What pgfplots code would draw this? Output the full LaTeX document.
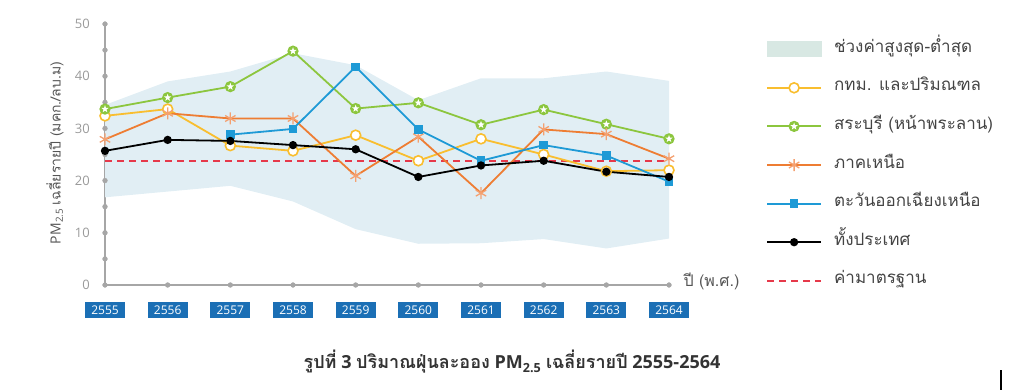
\documentclass[border=0pt]{standalone}
\usepackage{fontspec}
\setmainfont{Open Sans}
\newfontfamily\thai[Script=Thai]{Loma}
\usepackage{pgfplots}
\pgfplotsset{compat=1.18}
\definecolor{cyel}{HTML}{F9BE2F}
\definecolor{cgrn}{HTML}{8CC63E}
\definecolor{corg}{HTML}{EE7D33}
\definecolor{corgm}{HTML}{F4A070}
\definecolor{cblu}{HTML}{1E9AD6}
\definecolor{stdred}{HTML}{E6394A}
\definecolor{bandc}{HTML}{E1EEF4}
\definecolor{legband}{HTML}{D8E8E3}
\definecolor{axisgray}{HTML}{A6A6A6}
\definecolor{tickgray}{HTML}{9A9A9A}
\definecolor{tickblue}{HTML}{1B6FB5}
\definecolor{labtext}{HTML}{555555}
\definecolor{legtext}{HTML}{444444}
\definecolor{captext}{HTML}{333333}
\pgfdeclareplotmark{gstar}{%
  \pgfpathcircle{\pgfpointorigin}{\pgfplotmarksize}%
  \pgfsetfillcolor{cgrn}\pgfusepathqfillstroke
  \pgfpathmoveto{\pgfpointpolar{90}{0.78\pgfplotmarksize}}%
  \pgfpathlineto{\pgfpointpolar{126}{0.32\pgfplotmarksize}}%
  \pgfpathlineto{\pgfpointpolar{162}{0.78\pgfplotmarksize}}%
  \pgfpathlineto{\pgfpointpolar{198}{0.32\pgfplotmarksize}}%
  \pgfpathlineto{\pgfpointpolar{234}{0.78\pgfplotmarksize}}%
  \pgfpathlineto{\pgfpointpolar{270}{0.32\pgfplotmarksize}}%
  \pgfpathlineto{\pgfpointpolar{306}{0.78\pgfplotmarksize}}%
  \pgfpathlineto{\pgfpointpolar{342}{0.32\pgfplotmarksize}}%
  \pgfpathlineto{\pgfpointpolar{18}{0.78\pgfplotmarksize}}%
  \pgfpathlineto{\pgfpointpolar{54}{0.32\pgfplotmarksize}}%
  \pgfpathclose
  \pgfsetfillcolor{white}\pgfusepathqfill
}
\begin{document}
\begin{tikzpicture}
\useasboundingbox (0pt,0pt) rectangle (1024pt,390pt);
\begin{axis}[
  at={(105pt,105pt)}, anchor=south west,
  scale only axis, width=564pt, height=261pt,
  xmin=0, xmax=9, ymin=0, ymax=50,
  axis lines*=left,
  axis line style={draw=axisgray, line width=1.6pt},
  xtick={0,...,9},
  xticklabels={2555,2556,2557,2558,2559,2560,2561,2562,2563,2564},
  ytick={0,10,20,30,40,50},
  yticklabels={0,10,20,30,40,50},
  major tick length=0pt, tick style={draw=none},
  xticklabel style={fill=tickblue, text=white, minimum width=40pt, minimum height=16pt, inner sep=0pt, anchor=center, yshift=-25pt, font=\fontsize{12}{13}\selectfont},
  yticklabel style={anchor=east, inner sep=0pt, xshift=-15pt, text=tickgray, font=\fontsize{13}{14}\selectfont},
  ylabel={PM\textsubscript{2.5} {\thai เฉลี่ยรายปี (มคก./ลบ.ม)}},
  ylabel style={at={(axis description cs:-0.0887,0.506)}, anchor=center, text=labtext, font=\fontsize{14}{16}\selectfont},
  clip=false,
  legend cell align=left,
  legend image code/.code={\path[draw=none,fill=none] (0pt,0pt) -- (67pt,0pt); \draw[mark repeat=2,mark phase=2,#1] plot coordinates {(0pt,0pt) (27pt,0pt) (54pt,0pt)};},
  legend style={at={(1.172,0.9387)}, anchor=north west, draw=none, fill=none, inner sep=0pt, row sep=20.6pt,
    nodes={inner sep=0pt, text height=12pt, text depth=6pt, anchor=west, text=legtext, font=\thai\fontsize{17}{18}\selectfont}},
]
% band (max-min range)
\addplot[fill=bandc, draw=none, forget plot] coordinates {
(0,34.5) (1,39.0) (2,40.9) (3,44.4) (4,42.1) (5,35.4) (6,39.6) (7,39.6) (8,40.9) (9,39.1)
(9,8.9) (8,7.0) (7,8.8) (6,8.0) (5,7.9) (4,10.7) (3,16.0) (2,19.0) (1,17.9) (0,16.8)} -- cycle;
% axis dots
\addplot[only marks, mark=*, mark size=2.4pt, color=axisgray, forget plot] coordinates {
(0,0) (0,5) (0,10) (0,15) (0,20) (0,25) (0,30) (0,35) (0,40) (0,45) (0,50)
(1,0) (2,0) (3,0) (4,0) (5,0) (6,0) (7,0) (8,0) (9,0)};
% standard
\addplot[draw=stdred, mark=none, line width=1.6pt, dash pattern=on 7pt off 5pt, forget plot] coordinates {(0,23.7) (9,23.7)};
% Bangkok
\addplot[cyel, line width=1.8pt, mark=*, mark size=5pt, mark options={fill=white, draw=cyel, line width=1.6pt}, forget plot] coordinates {
(0,32.4) (1,33.7) (2,26.7) (3,25.7) (4,28.7) (5,23.8) (6,28.0) (7,25.0) (8,21.8) (9,22.0)};
% Saraburi
\addplot[cgrn, line width=1.8pt, mark=gstar, mark size=5pt, mark options={draw=cgrn, line width=1.2pt}, forget plot] coordinates {
(0,33.7) (1,35.9) (2,38.0) (3,44.8) (4,33.8) (5,34.9) (6,30.7) (7,33.6) (8,30.8) (9,28.0)};
% North
\addplot[corg, line width=1.8pt, mark=asterisk, mark size=6pt, mark options={draw=corgm, line width=1.3pt}, forget plot] coordinates {
(0,27.9) (1,32.9) (2,31.9) (3,31.9) (4,20.9) (5,28.4) (6,17.6) (7,29.8) (8,28.9) (9,24.2)};
% Northeast
\addplot[cblu, line width=1.8pt, mark=square*, mark size=3.4pt, mark options={fill=cblu, draw=cblu}, forget plot] coordinates {
(2,28.8) (3,29.9) (4,41.8) (5,29.8) (6,23.8) (7,26.8) (8,24.8) (9,19.8)};
% Whole country
\addplot[black, line width=1.8pt, mark=*, mark size=3.2pt, mark options={fill=black}, forget plot] coordinates {
(0,25.7) (1,27.8) (2,27.6) (3,26.8) (4,26.0) (5,20.7) (6,22.9) (7,23.8) (8,21.7) (9,20.7)};
% legend
\addlegendimage{legend image code/.code={\path[draw=none,fill=none] (0pt,0pt) -- (67pt,0pt); \fill[legband] (0pt,-7.5pt) rectangle (54pt,7.5pt);}}
\addlegendentry{ช่วงค่าสูงสุด-ต่ำสุด}
\addlegendimage{cyel, line width=1.8pt, mark=*, mark size=5pt, mark options={fill=white, draw=cyel, line width=1.6pt}}
\addlegendentry{กทม. และปริมณฑล}
\addlegendimage{cgrn, line width=1.8pt, mark=gstar, mark size=5pt, mark options={draw=cgrn, line width=1.2pt}}
\addlegendentry{สระบุรี (หน้าพระลาน)}
\addlegendimage{corg, line width=1.8pt, mark=asterisk, mark size=6pt, mark options={draw=corgm, line width=1.3pt}}
\addlegendentry{ภาคเหนือ}
\addlegendimage{cblu, line width=1.8pt, mark=square*, mark size=3.4pt, mark options={fill=cblu, draw=cblu}}
\addlegendentry{ตะวันออกเฉียงเหนือ}
\addlegendimage{black, line width=1.8pt, mark=*, mark size=3.2pt, mark options={fill=black}}
\addlegendentry{ทั้งประเทศ}
\addlegendimage{draw=stdred, line width=1.6pt, dash pattern=on 7pt off 5pt}
\addlegendentry{ค่ามาตรฐาน}
\end{axis}
\node[anchor=west, text=labtext, font=\thai\fontsize{16}{18}\selectfont] at (680pt,109pt) {ปี (พ.ศ.)};
\node[text=captext, font=\bfseries\fontsize{18}{20}\selectfont] at (512pt,28pt) {{\thai รูปที่} 3 {\thai ปริมาณฝุ่นละออง} PM\textsubscript{2.5} {\thai เฉลี่ยรายปี} 2555-2564};
\draw[line width=2pt] (1001pt,0pt) -- (1001pt,20pt);
\end{tikzpicture}
\end{document}
